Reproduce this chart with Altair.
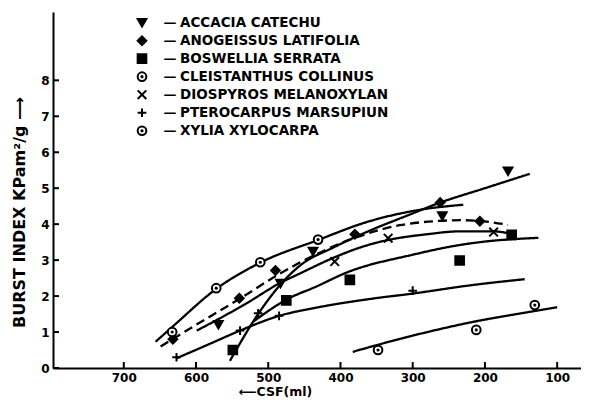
import altair as alt
import pandas as pd

# ---------------- data ----------------
species = ["ACCACIA CATECHU", "ANOGEISSUS LATIFOLIA", "BOSWELLIA SERRATA",
           "CLEISTANTHUS COLLINUS", "DIOSPYROS MELANOXYLAN",
           "PTEROCARPUS MARSUPIUN", "XYLIA XYLOCARPA"]

# measured points (CSF ml, burst index)
acacia_x = [569, 483, 438, 259, 168]
acacia_y = [1.2, 2.35, 3.24, 4.23, 5.47]
anog_x = [632, 540, 490, 380, 262, 207]
anog_y = [0.8, 1.94, 2.71, 3.72, 4.6, 4.08]
bosw_x = [549, 475, 387, 235, 163]
bosw_y = [0.5, 1.88, 2.45, 2.99, 3.7]
cleis_x = [348, 212, 131]
cleis_y = [0.5, 1.06, 1.75]
diosp_x = [408, 334, 188]
diosp_y = [2.96, 3.61, 3.78]
ptero_x = [627, 539, 514, 485, 300]
ptero_y = [0.3, 1.04, 1.52, 1.45, 2.15]
xylia_x = [633, 572, 511, 431]
xylia_y = [1.0, 2.22, 2.94, 3.57]

# fitted curves
acacia_cx = [553, 514, 484, 456, 410, 364, 310, 262, 200, 138]
acacia_cy = [0.2, 1.5, 2.3, 2.85, 3.35, 3.78, 4.22, 4.6, 5.0, 5.4]
anog_cx = [649, 600, 540, 490, 440, 380, 318, 272, 230, 207, 168]
anog_cy = [0.6, 1.2, 1.92, 2.55, 3.1, 3.62, 3.97, 4.08, 4.11, 4.09, 3.98]
bosw_cx = [520, 475, 433, 392, 300, 235, 207, 126]
bosw_cy = [1.3, 1.9, 2.27, 2.65, 3.15, 3.42, 3.5, 3.62]
cleis_cx = [383, 300, 212, 150, 100]
cleis_cy = [0.45, 0.9, 1.3, 1.52, 1.69]
diosp_cx = [599, 569, 530, 484, 456, 408, 373, 334, 280, 235, 189, 161]
diosp_cy = [1.04, 1.36, 1.8, 2.36, 2.63, 3.08, 3.35, 3.56, 3.72, 3.8, 3.8, 3.72]
ptero_cx = [627, 580, 539, 485, 433, 359, 300, 220, 145]
ptero_cy = [0.27, 0.68, 1.04, 1.45, 1.68, 1.92, 2.07, 2.3, 2.47]
xylia_cx = [656, 633, 572, 511, 431, 365, 290, 230]
xylia_cy = [0.73, 1.14, 2.2, 2.93, 3.56, 4.05, 4.4, 4.54]

x_ticks = [100, 200, 300, 400, 500, 600, 700]
y_ticks = [0, 1, 2, 3, 4, 5, 6, 7, 8]

# ---------------- tables ----------------
pts_src = [(acacia_x, acacia_y), (anog_x, anog_y), (bosw_x, bosw_y), (cleis_x, cleis_y),
           (diosp_x, diosp_y), (ptero_x, ptero_y), (xylia_x, xylia_y)]
crv_src = [(acacia_cx, acacia_cy), (anog_cx, anog_cy), (bosw_cx, bosw_cy), (cleis_cx, cleis_cy),
           (diosp_cx, diosp_cy), (ptero_cx, ptero_cy), (xylia_cx, xylia_cy)]

pts = pd.DataFrame([{"csf": x, "bi": y, "species": s}
                    for s, (xs, ys) in zip(species, pts_src) for x, y in zip(xs, ys)])
crv = pd.DataFrame([{"csf": x, "bi": y, "species": s}
                    for s, (xs, ys) in zip(species, crv_src) for x, y in zip(xs, ys)])
leg = pd.DataFrame({"species": species, "row": list(range(len(species))), "dash": ["—"] * len(species)})

FONT = "DejaVu Sans"
X_PATH = "M-1,-1L1,1M-1,1L1,-1"
PLUS_PATH = "M-1,0L1,0M0,-1L0,1"

shape_scale = alt.Scale(domain=species,
                        range=["triangle-down", "diamond", "square", "circle", X_PATH, PLUS_PATH, "circle"])
fill_scale = alt.Scale(domain=species,
                       range=["black", "black", "black", "white", "black", "black", "white"])
dash_scale = alt.Scale(domain=species,
                       range=[[1, 0], [9, 5], [1, 0], [1, 0], [1, 0], [1, 0], [1, 0]])

x_scale = alt.Scale(domain=[67, 798], reverse=True, nice=False, zero=False)
y_scale = alt.Scale(domain=[0, 9.9], nice=False)

x_axis = alt.Axis(values=x_ticks, ticks=False, grid=False, domainColor="black", domainWidth=2,
                  labelFont=FONT, labelFontSize=12, labelFontWeight="bold", labelColor="black",
                  labelPadding=4, title="⟵CSF(ml)", titleFont=FONT, titleFontSize=12.5,
                  titleFontWeight="bold", titleColor="black", titleX=222, titleY=17,
                  titleBaseline="top")
y_axis = alt.Axis(values=y_ticks, ticks=False, grid=False, domainColor="black", domainWidth=2,
                  labelFont=FONT, labelFontSize=12, labelFontWeight="bold", labelColor="black",
                  labelPadding=4, title="BURST  INDEX  KPam²/g ⟶", titleFont=FONT,
                  titleFontSize=16, titleFontWeight="bold", titleColor="black",
                  titleX=-34, titleY=200, titleBaseline="middle")

X = alt.X("csf:Q", scale=x_scale, axis=x_axis)
Y = alt.Y("bi:Q", scale=y_scale, axis=y_axis)

curves = alt.Chart(crv).mark_line(color="black", strokeWidth=2.3, interpolate="monotone").encode(
    x=X, y=Y, detail="species:N",
    strokeDash=alt.StrokeDash("species:N", scale=dash_scale, legend=None))

points = alt.Chart(pts).mark_point(stroke="black", strokeWidth=2, opacity=1, filled=False).encode(
    x=X, y=Y,
    shape=alt.Shape("species:N", scale=shape_scale, legend=None),
    fill=alt.Fill("species:N", scale=fill_scale, legend=None),
    size=alt.value(75))

dots = alt.Chart(pts).transform_filter(
    alt.FieldOneOfPredicate(field="species", oneOf=[species[3], species[6]])
).mark_point(shape="circle", filled=True, color="black", opacity=1, size=10).encode(x=X, y=Y)

ytick = alt.Chart(pd.DataFrame({"bi": y_ticks})).mark_rule(color="black", strokeWidth=2).encode(
    y=Y, x=alt.value(0), x2=alt.value(6))
xtick = alt.Chart(pd.DataFrame({"csf": x_ticks})).mark_rule(color="black", strokeWidth=2).encode(
    x=X, y=alt.value(356), y2=alt.value(350))

main = alt.layer(curves, ytick, xtick, points, dots)

LY = alt.Y("row:Q", scale=alt.Scale(domain=[-0.594, 19.18], reverse=True, nice=False, zero=False), axis=None)
leg_sym = alt.Chart(leg).mark_point(stroke="black", strokeWidth=2, opacity=1, filled=False).encode(
    x=alt.value(89), y=LY,
    shape=alt.Shape("species:N", scale=shape_scale, legend=None),
    fill=alt.Fill("species:N", scale=fill_scale, legend=None),
    size=alt.value(75))
leg_dot = alt.Chart(leg).transform_filter(
    alt.FieldOneOfPredicate(field="species", oneOf=[species[3], species[6]])
).mark_point(shape="circle", filled=True, color="black", opacity=1, size=10).encode(x=alt.value(89), y=LY)
leg_dash = alt.Chart(leg).mark_text(font=FONT, fontSize=13, fontWeight="bold", color="black",
                                    align="center", baseline="middle").encode(
    x=alt.value(117), y=LY, text="dash:N")
leg_txt = alt.Chart(leg).mark_text(font=FONT, fontSize=13.5, fontWeight="bold", color="black",
                                   align="left", baseline="middle").encode(
    x=alt.value(127), y=LY, text="species:N")

legend = alt.layer(leg_sym, leg_dot, leg_dash, leg_txt)

chart = alt.layer(main, legend).resolve_scale(y="independent").properties(
    width=528, height=356,
    autosize=alt.AutoSizeParams(type="none"),
    padding={"left": 45, "top": 4, "right": 0, "bottom": 30},
    background="white",
).configure_view(stroke=None)

chart.save("out.html", embed_options={"renderer": "svg", "actions": False})
